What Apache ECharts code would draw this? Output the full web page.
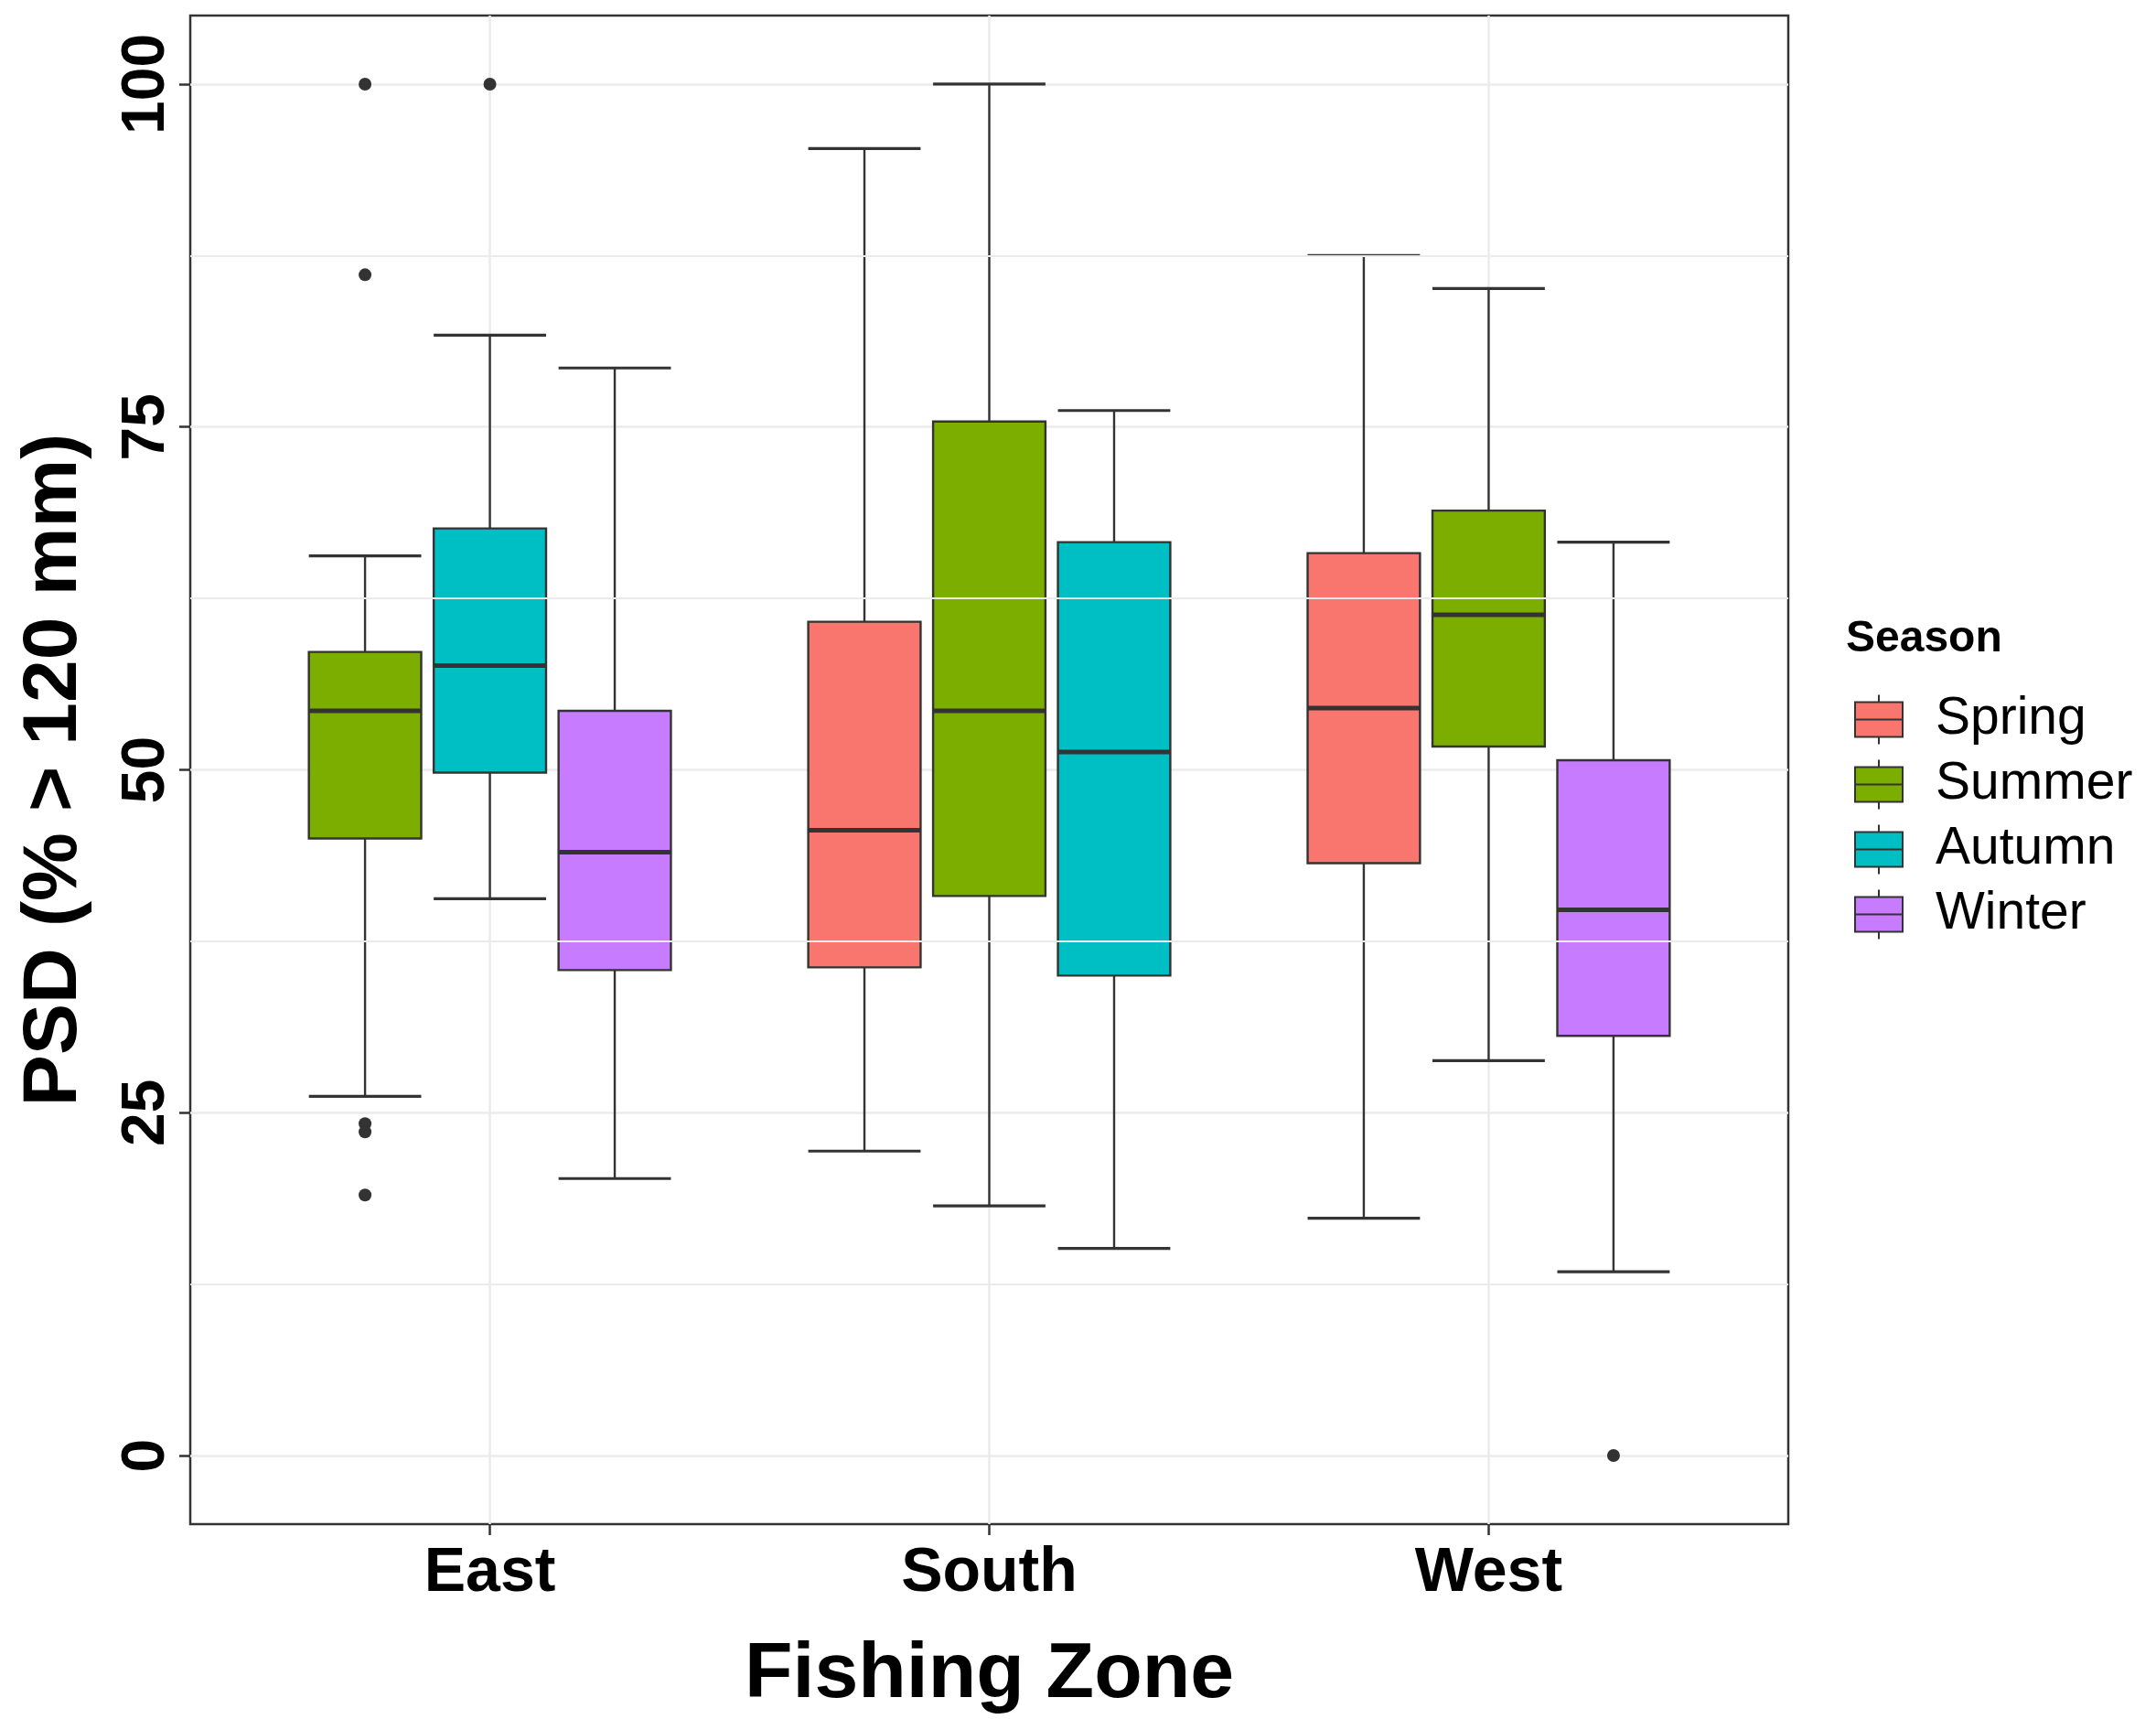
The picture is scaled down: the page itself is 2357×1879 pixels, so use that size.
<!DOCTYPE html>
<html>
<head>
<meta charset="utf-8">
<title>PSD by fishing zone and season</title>
<script src="https://cdn.jsdelivr.net/npm/echarts@6.0.0/dist/echarts.min.js"></script>
<style>
	html, body { margin: 0; padding: 0; background: #fff; }
	#chart { width: 2357px; height: 1879px; }
</style>
</head>
<body>
<div id="chart"></div>
<script>
// categories
var zones = ['East', 'South', 'West'];
var seasons = ['Spring', 'Summer', 'Autumn', 'Winter'];
var seasonColors = ['#F8766D', '#7CAE00', '#00BFC4', '#C77CFF'];

// per zone: [lower whisker, Q1, median, Q3, upper whisker], null = no samples
var spring = [null, [22.2, 35.6, 45.6, 60.8, 95.3], [17.3, 43.2, 54.5, 65.8, 87.5]];
var summer = [[26.2, 45.0, 54.3, 58.6, 65.6], [18.2, 40.8, 54.3, 75.4, 100], [28.8, 51.7, 61.3, 68.9, 85.1]];
var autumn = [[40.6, 49.8, 57.6, 67.6, 81.7], [15.1, 35.0, 51.3, 66.6, 76.2], null];
var winter = [[20.2, 35.4, 44.0, 54.3, 79.3], null, [13.4, 30.6, 39.8, 50.7, 66.6]];

// outliers: [zone, season, value]
var outliers = [
	['East', 'Summer', 100],
	['East', 'Summer', 86.1],
	['East', 'Summer', 24.2],
	['East', 'Summer', 23.6],
	['East', 'Summer', 19.0],
	['East', 'Autumn', 100],
	['West', 'Winter', 0]
];

// tick labels
var yTicks = [0, 25, 50, 75, 100];
var yMinorTicks = [12.5, 37.5, 62.5, 87.5];

(function() {
	var stats = [spring, summer, autumn, winter];
	var SLOT = 0.25;      // dodge slot per box
	var BOX_W = 0.225;    // box width in x units
	var FONT = '"Liberation Sans", Arial, sans-serif';
	var INK = '#333333';

	// x position of a season's box inside a zone (only seasons present get a slot)
	function xPos(zi, si) {
		var present = [];
		for (var s = 0; s < stats.length; s++) {
			if (stats[s][zi]) present.push(s);
		}
		var k = present.indexOf(si);
		return zi + 1 + (k - (present.length - 1) / 2) * SLOT;
	}

	function renderBox(params, api) {
		var x = api.value(0);
		var lo = api.coord([x, api.value(1)]);
		var q1 = api.coord([x, api.value(2)]);
		var md = api.coord([x, api.value(3)]);
		var q3 = api.coord([x, api.value(4)]);
		var hi = api.coord([x, api.value(5)]);
		var half = api.size([BOX_W / 2, 0])[0];
		var line = { stroke: INK, lineWidth: 2.4 };
		var cap = { stroke: INK, lineWidth: 3.2 };
		return {
			type: 'group',
			children: [
				{ type: 'line', shape: { x1: hi[0], y1: hi[1], x2: q3[0], y2: q3[1] }, style: line },
				{ type: 'line', shape: { x1: q1[0], y1: q1[1], x2: lo[0], y2: lo[1] }, style: line },
				{ type: 'line', shape: { x1: hi[0] - half, y1: hi[1], x2: hi[0] + half, y2: hi[1] }, style: cap },
				{ type: 'line', shape: { x1: lo[0] - half, y1: lo[1], x2: lo[0] + half, y2: lo[1] }, style: cap },
				{
					type: 'rect',
					shape: { x: q3[0] - half, y: q3[1], width: half * 2, height: q1[1] - q3[1] },
					style: { fill: api.visual('color'), stroke: INK, lineWidth: 2.4 }
				},
				{ type: 'line', shape: { x1: md[0] - half, y1: md[1], x2: md[0] + half, y2: md[1] }, style: { stroke: INK, lineWidth: 5 } }
			]
		};
	}

	var series = [];
	// minor grid lines under the boxes
	series.push({
		type: 'line',
		data: [],
		silent: true,
		z: 1,
		markLine: {
			silent: true,
			symbol: ['none', 'none'],
			label: { show: false },
			lineStyle: { color: '#EBEBEB', width: 2, type: 'solid' },
			data: yMinorTicks.map(function(v) { return { yAxis: v }; })
		}
	});

	seasons.forEach(function(name, si) {
		var data = [];
		zones.forEach(function(z, zi) {
			var s = stats[si][zi];
			if (s) data.push([xPos(zi, si)].concat(s));
		});
		series.push({
			name: name,
			type: 'custom',
			z: 3,
			itemStyle: { color: seasonColors[si] },
			encode: { x: 0, y: [1, 2, 3, 4, 5] },
			renderItem: renderBox,
			data: data
		});
	});

	series.push({
		name: 'outliers',
		type: 'scatter',
		z: 4,
		symbolSize: 14,
		itemStyle: { color: INK, opacity: 1 },
		data: outliers.map(function(o) {
			return [xPos(zones.indexOf(o[0]), seasons.indexOf(o[1])), o[2]];
		})
	});

	var myChart = echarts.init(document.getElementById('chart'));
	var option = {
		backgroundColor: '#ffffff',
		animation: false,
		textStyle: { fontFamily: FONT },
		title: {
			text: 'Season',
			left: 2013,
			top: 670,
			textStyle: { fontFamily: FONT, fontSize: 48, fontWeight: 'bold', color: '#000' }
		},
		legend: {
			data: seasons,
			orient: 'vertical',
			left: 2022,
			top: 753,
			itemWidth: 52,
			itemHeight: 54,
			itemGap: 14,
			icon: 'path://M26 0L26 8M0 8L52 8L52 46L0 46ZM0 27L52 27M26 46L26 54',
			itemStyle: { borderColor: INK, borderWidth: 2 },
			textStyle: { fontFamily: FONT, fontSize: 57, color: '#000', padding: [0, 0, 0, 31] }
		},
		grid: {
			left: 208,
			top: 17,
			width: 1747,
			height: 1652,
			show: true,
			borderColor: INK,
			borderWidth: 2.5,
			containLabel: false
		},
		xAxis: {
			type: 'value',
			min: 0.4,
			max: 3.6,
			name: 'Fishing Zone',
			nameLocation: 'middle',
			nameGap: 122,
			nameTextStyle: { fontFamily: FONT, fontSize: 86, fontWeight: 'bold', color: '#000' },
			axisLine: { show: false, onZero: false },
			axisTick: { show: true, customValues: [1, 2, 3], length: 12, lineStyle: { color: INK, width: 2.5 } },
			axisLabel: {
				customValues: [1, 2, 3],
				margin: 20,
				fontFamily: FONT,
				fontSize: 68,
				fontWeight: 'bold',
				color: '#000',
				formatter: function(v) { return zones[Math.round(v) - 1]; }
			},
			splitLine: { show: true, lineStyle: { color: '#EBEBEB', width: 2.5 } }
		},
		yAxis: {
			type: 'value',
			min: -5,
			max: 105,
			name: 'PSD (% > 120 mm)',
			nameLocation: 'middle',
			nameGap: 106,
			nameTextStyle: { fontFamily: FONT, fontSize: 84, fontWeight: 'bold', color: '#000' },
			axisLine: { show: false, onZero: false },
			axisTick: { show: true, customValues: yTicks, length: 12, lineStyle: { color: INK, width: 2.5 } },
			axisLabel: {
				customValues: yTicks,
				rotate: 90,
				margin: 14,
				fontFamily: FONT,
				fontSize: 66,
				fontWeight: 'bold',
				color: '#000'
			},
			splitLine: { show: true, lineStyle: { color: '#EBEBEB', width: 2.5 } }
		},
		series: series
	};

	myChart.setOption(option);
	window.addEventListener('resize', function() {
		myChart.resize();
	});
})();
</script>
</body>
</html>
